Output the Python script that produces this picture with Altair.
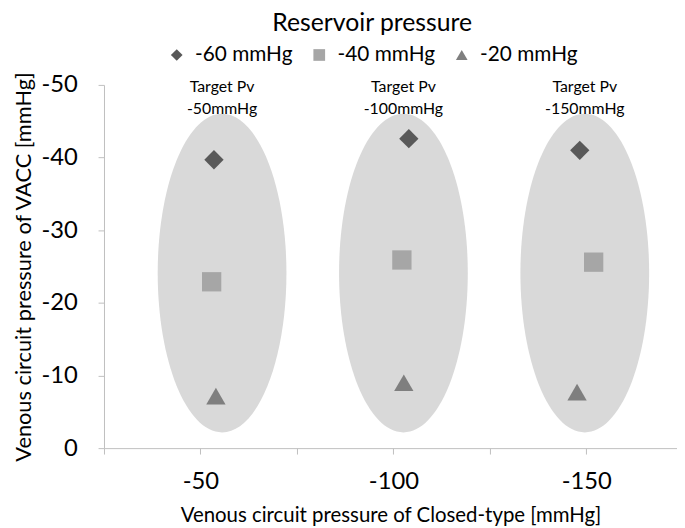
import altair as alt
import pandas as pd

# ---- data ----
series = ["-60 mmHg", "-40 mmHg", "-20 mmHg"]
x_m60 = [-53.5, -104.0, -148.3]
y_m60 = [-39.7, -42.6, -41.0]
x_m40 = [-52.9, -102.2, -151.9]
y_m40 = [-22.9, -25.9, -25.6]
x_m20 = [-54.0, -102.7, -147.6]
y_m20 = [-7.15, -9.0, -7.7]

group_center_x = [-55.6, -102.6, -149.6]
group_center_y = [-24.1, -24.1, -24.1]
target_labels = [["Target Pv", "-50mmHg"], ["Target Pv", "-100mmHg"], ["Target Pv", "-150mmHg"]]

x_ticks = [-25, -50, -75, -100, -125, -150]
y_ticks = [0, -10, -20, -30, -40, -50]

FONT = "Lato"

rows = []
for name, xs, ys in [(series[0], x_m60, y_m60), (series[1], x_m40, y_m40), (series[2], x_m20, y_m20)]:
    for xv, yv in zip(xs, ys):
        rows.append({"series": name, "x": xv, "y": yv})
pts = pd.DataFrame(rows)
groups = pd.DataFrame({"x": group_center_x, "y": group_center_y,
                       "label": target_labels})

xscale = alt.Scale(domain=[-25, -173.5], nice=False, zero=False)
yscale = alt.Scale(domain=[0, -50], nice=False, zero=False)

ellipse_path = ("M 0 -1 C 0.2231 -1 0.404 -0.5523 0.404 0 "
                "C 0.404 0.5523 0.2231 1 0 1 "
                "C -0.2231 1 -0.404 0.5523 -0.404 0 "
                "C -0.404 -0.5523 -0.2231 -1 0 -1 Z")

xaxis = alt.Axis(values=x_ticks,
                 labelExpr="datum.value % 50 == 0 ? toString(datum.value) : ''",
                 title="Venous circuit pressure of Closed-type [mmHg]",
                 grid=False, domainColor="#bfbfbf", tickColor="#bfbfbf",
                 tickSize=6, labelPadding=16, labelFontSize=24, labelFont=FONT,
                 labelColor="#000000", titleFont=FONT, titleFontSize=20.6,
                 titleFontWeight="normal", titleColor="#000000", titlePadding=12)
yaxis = alt.Axis(values=y_ticks, labelExpr="toString(datum.value)",
                 title="Venous circuit pressure of VACC [mmHg]",
                 grid=False, domainColor="#bfbfbf", tickColor="#bfbfbf",
                 tickSize=6, labelPadding=21, labelFontSize=24, labelFont=FONT,
                 labelColor="#000000", titleFont=FONT, titleFontSize=22,
                 titleFontWeight="normal", titleColor="#000000", titlePadding=6)

ellipses = alt.Chart(groups).mark_point(
    shape=ellipse_path, filled=True, color="#d9d9d9", opacity=1, size=103684
).encode(
    x=alt.X("x:Q", scale=xscale, axis=xaxis),
    y=alt.Y("y:Q", scale=yscale, axis=yaxis),
)

texts = alt.Chart(groups).mark_text(
    font=FONT, fontSize=16, color="#000000", lineHeight=22, baseline="middle"
).encode(
    x=alt.X("x:Q", scale=xscale),
    y=alt.value(2),
    text="label",
)

legend = alt.Legend(title="Reservoir pressure", orient="none", direction="horizontal",
                    legendX=63, legendY=-74, titleAnchor="middle", titleLimit=500,
                    titleFont=FONT, titleFontSize=25, titleFontWeight="normal",
                    titleColor="#000000", titlePadding=8,
                    labelFont=FONT, labelFontSize=21, labelColor="#000000",
                    labelLimit=300,
                    symbolSize=140, labelOffset=8, columnPadding=16, padding=0)

points = alt.Chart(pts).mark_point(filled=True, opacity=1, size=380).encode(
    x=alt.X("x:Q", scale=xscale),
    y=alt.Y("y:Q", scale=yscale),
    shape=alt.Shape("series:N", sort=series,
                    scale=alt.Scale(domain=series, range=["diamond", "square", "triangle-up"]),
                    legend=legend),
    color=alt.Color("series:N", sort=series,
                    scale=alt.Scale(domain=series, range=["#595959", "#a6a6a6", "#7f7f7f"]),
                    legend=legend),
)

chart = alt.layer(ellipses, texts, points).properties(
    width=579, height=367,
    autosize=alt.AutoSizeParams(type="none"),
    padding={"left": 97, "top": 75, "right": 0, "bottom": 80},
).configure_view(stroke=None)

chart.save("out.html", embed_options={"renderer": "svg", "actions": False})
